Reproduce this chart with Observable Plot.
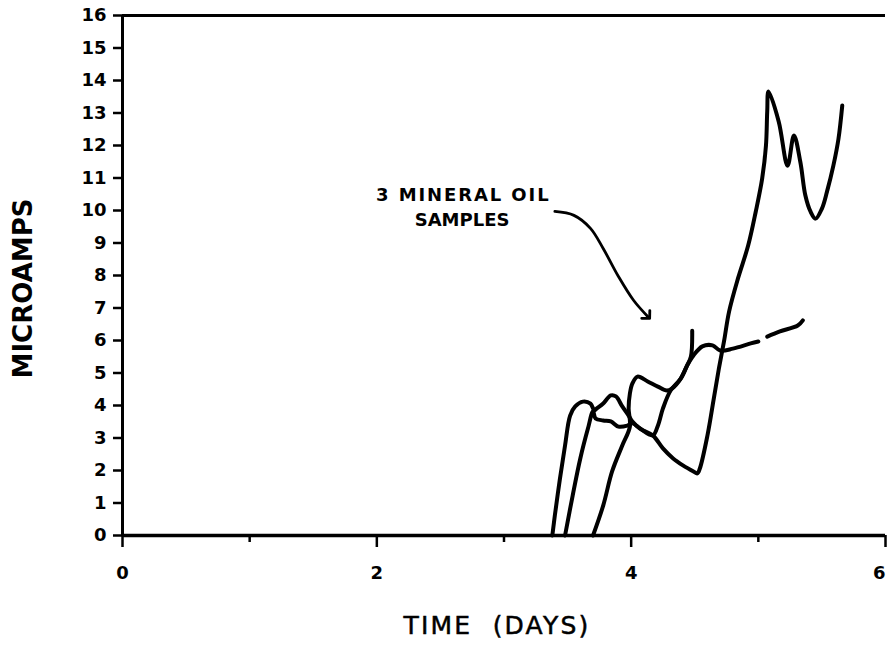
<!DOCTYPE html>
<html><head><meta charset="utf-8">
<script src="https://cdn.jsdelivr.net/npm/d3@7"></script>
<script src="https://cdn.jsdelivr.net/npm/@observablehq/plot@0.6"></script>
<style>
html,body{margin:0;padding:0;background:#fff;overflow:hidden;}
</style>
</head><body><div id="chart"></div>
<script>
// Sample 1 (earliest start; dips then climbs to the highest readings)
const sample1Days = [3.38,3.40,3.44,3.48,3.52,3.56,3.62,3.68,3.71,3.73,3.78,3.84,3.88,3.93,3.98,4.01,4.07,4.17,4.25,4.33,4.41,4.49,4.52,4.54,4.60,4.65,4.69,4.73,4.77,4.84,4.92,4.98,5.03,5.06,5.07,5.08,5.16,5.23,5.28,5.33,5.37,5.41,5.45,5.50,5.54,5.59,5.63,5.66];
const sample1Amps = [0,0.62,1.75,2.77,3.69,3.97,4.12,4.06,3.85,3.91,4.06,4.31,4.28,3.97,3.69,3.51,3.29,3.08,2.68,2.37,2.15,1.97,1.91,2.06,3.08,4.22,5.14,5.97,6.89,7.91,8.92,9.97,10.98,12.0,13.05,13.66,12.74,11.38,12.31,11.5,10.46,9.97,9.75,10.06,10.58,11.38,12.2,13.23];
// Sample 2 (ends in a short spike)
const sample2Days = [3.48,3.54,3.60,3.66,3.70,3.72,3.78,3.84,3.90,3.97,4.01,4.07,4.17,4.21,4.25,4.31,4.39,4.44,4.47,4.48];
const sample2Amps = [0,1.23,2.37,3.29,3.82,3.60,3.54,3.51,3.35,3.38,3.45,3.29,3.08,3.38,3.91,4.46,4.83,5.23,5.51,6.30];
// Sample 3 (latest start; levels off near 6, gap in trace)
const sample3Days = [3.70,3.78,3.85,3.93,3.99,3.98,3.99,4.01,4.05,4.13,4.21,4.28,4.32,4.39,4.44,4.49,4.56,4.64,4.70,4.80,4.94,5.00,5.035,5.07,5.17,5.31,5.35];
const sample3Amps = [0,0.92,1.97,2.77,3.35,3.91,4.37,4.68,4.89,4.74,4.58,4.46,4.52,4.83,5.23,5.54,5.82,5.85,5.69,5.75,5.91,5.97,null,6.12,6.28,6.46,6.62];
// Annotation arrow path
const arrowDays = [3.40,3.55,3.68,3.78,3.90,4.02,4.13];
const arrowAmps = [9.97,9.85,9.45,8.83,7.97,7.23,6.74];

const yTicks = d3.range(0, 17);
const xMajorTicks = [0, 2, 4];
const xLastTick = [6];
const xMinorTicks = [1, 3, 5];
const annotationLine1 = ["3 MINERAL OIL"];
const annotationLine2 = ["SAMPLES"];
const yTitle = ["MICROAMPS"];
const xTitle = ["TIME  (DAYS)"];

const rows = (days, amps, sample) => days.map((d, i) => ({day: d, amps: amps[i], sample}));
const data = [
  ...rows(sample1Days, sample1Amps, "1"),
  ...rows(sample2Days, sample2Amps, "2"),
  ...rows(sample3Days, sample3Amps, "3")
];
const arrowData = rows(arrowDays, arrowAmps, "arrow");

const tickText = {fontSize: 18, fontWeight: "bold", strokeWidth: 2.5, tickFormat: d => String(d), label: null};

const chart = Plot.plot({
  width: 887,
  height: 648,
  marginLeft: 122,
  marginRight: 2,
  marginTop: 15,
  marginBottom: 113,
  style: {fontFamily: "DejaVu Sans", background: "white", color: "black"},
  x: {domain: [0, 6]},
  y: {domain: [0, 16]},
  marks: [
    Plot.ruleY([16], {stroke: "black", strokeWidth: 3}),
    Plot.ruleY([0], {stroke: "black", strokeWidth: 3.5}),
    Plot.ruleX([0], {stroke: "black", strokeWidth: 3}),
    Plot.axisY(yTicks, {tickSize: 9, tickPadding: 7, fontSize: 18, fontWeight: "bold", strokeWidth: 2.5, label: null}),
    Plot.axisX(xMajorTicks, {tickSize: 12, tickPadding: 19, ...tickText}),
    Plot.axisX(xLastTick, {tickSize: 12, tickPadding: 19, textAnchor: "end", ...tickText}),
    Plot.axisX(xMinorTicks, {tickSize: 7, tickFormat: () => "", strokeWidth: 2.5, label: null}),
    Plot.line(data, {x: "day", y: "amps", z: "sample", stroke: "black", strokeWidth: 4, curve: "catmull-rom", strokeLinejoin: "round", strokeLinecap: "round"}),
    Plot.line(arrowData, {x: "day", y: "amps", stroke: "black", strokeWidth: 2.8, curve: "catmull-rom", markerEnd: "arrow"}),
    Plot.text(annotationLine1, {x: 2.68, y: 10.46, text: d => d, fontSize: 18, fontWeight: "bold"}),
    Plot.text(annotationLine2, {x: 2.67, y: 9.69, text: d => d, fontSize: 18, fontWeight: "bold"}),
    Plot.text(yTitle, {frameAnchor: "left", textAnchor: "middle", lineAnchor: "middle", text: d => d, rotate: -90, dx: -99, dy: 13, fontSize: 26, fontWeight: "bold"}),
    Plot.text(xTitle, {frameAnchor: "bottom", textAnchor: "middle", lineAnchor: "middle", text: d => d, dx: -7, dy: 90, fontSize: 25})
  ]
});
// letter spacing tweaks to match the wide typeface of the original
const spacing = new Map([
  [annotationLine1[0], "1.9px"],
  [xTitle[0], "2.2px"]
]);
d3.select(chart).selectAll("text").each(function() {
  const s = spacing.get(this.textContent);
  if (s) {
    this.style.letterSpacing = s;
    if (this.textContent === xTitle[0]) { this.style.stroke = "black"; this.style.strokeWidth = "0.5px"; }
  }
});
document.getElementById("chart").appendChild(chart);
</script>
</body></html>
